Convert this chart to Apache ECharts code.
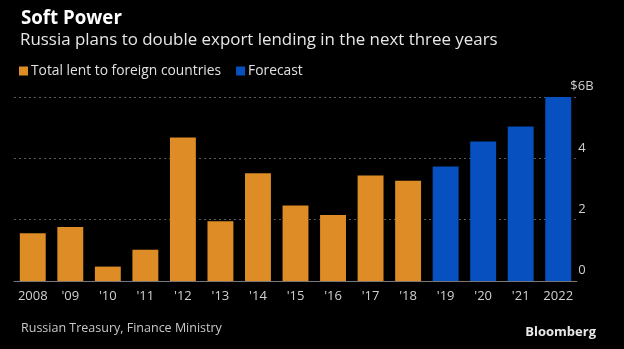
<!DOCTYPE html>
<html><head><meta charset="utf-8">
<script src="https://cdn.jsdelivr.net/npm/echarts@6/dist/echarts.min.js"></script>
<style>html,body{margin:0;padding:0;background:#000;}#c{width:624px;height:349px;}</style>
</head><body><div id="c"></div>
<script>
const categories = ['2008', "'09", "'10", "'11", "'12", "'13", "'14", "'15", "'16", "'17", "'18", "'19", "'20", "'21", '2022'];
const lentValues = [1.56, 1.76, 0.47, 1.02, 4.68, 1.95, 3.51, 2.46, 2.15, 3.44, 3.27, '-', '-', '-', '-'];
const forecastValues = ['-', '-', '-', '-', '-', '-', '-', '-', '-', '-', '-', 3.73, 4.55, 5.04, 6.0];
const yTicks = [0, 2, 4, 6];

const FONT = 'Open Sans';
const chart = echarts.init(document.getElementById('c'), null, {renderer: 'canvas'});
chart.setOption({
  backgroundColor: '#000',
  animation: false,
  textStyle: {fontFamily: FONT},
  title: [
    {text: 'Soft Power', left: 16, top: 4, textStyle: {color: '#fff', fontSize: 18.7, fontWeight: 'bold', fontFamily: FONT}},
    {text: 'Russia plans to double export lending in the next three years', left: 15, top: 27, textStyle: {color: '#e6e6e6', fontSize: 16.9, fontWeight: 'normal', fontFamily: FONT}},
    {text: 'Russian Treasury, Finance Ministry', left: 16, top: 317, textStyle: {color: '#c8c8c8', fontSize: 12.5, fontWeight: 'normal', fontFamily: FONT}},
    {text: 'Bloomberg', right: 23, top: 321, textStyle: {color: '#e8e8e8', fontSize: 13, fontWeight: 'bold', fontFamily: FONT}}
  ],
  legend: {
    left: 14, top: 59, icon: 'rect', itemWidth: 9, itemHeight: 9, itemGap: 15,
    textStyle: {color: '#e0e0e0', fontSize: 13.8, fontFamily: FONT, padding: [0, 0, 0, -2]},
    data: ['Total lent to foreign countries', 'Forecast']
  },
  grid: {left: 14, right: 47, top: 97, bottom: 68},
  xAxis: {
    type: 'category', data: categories,
    axisLine: {lineStyle: {color: '#777', width: 1}},
    axisTick: {alignWithLabel: true, length: 5, lineStyle: {color: '#aaa'}},
    axisLabel: {color: '#d0d0d0', fontSize: 13, margin: 9, interval: 0, fontFamily: FONT}
  },
  yAxis: {
    type: 'value', position: 'right', min: yTicks[0], max: yTicks[yTicks.length - 1], interval: 2,
    axisLine: {show: false}, axisTick: {show: false},
    splitLine: {lineStyle: {color: '#5a5a5a', type: [2, 3], width: 1}},
    axisLabel: {
      color: '#d0d0d0', fontSize: 13, margin: 5, align: 'center', verticalAlign: 'bottom', padding: [0, 0, 4, 0],
      fontFamily: FONT,
      formatter: v => v === 6 ? '$6B' : String(v)
    }
  },
  series: [
    {name: 'Total lent to foreign countries', type: 'bar', stack: 's', data: lentValues, barWidth: '69%', itemStyle: {color: '#de8c26'}},
    {name: 'Forecast', type: 'bar', stack: 's', data: forecastValues, barWidth: '69%', itemStyle: {color: '#0651bf'}}
  ]
});
</script></body></html>
